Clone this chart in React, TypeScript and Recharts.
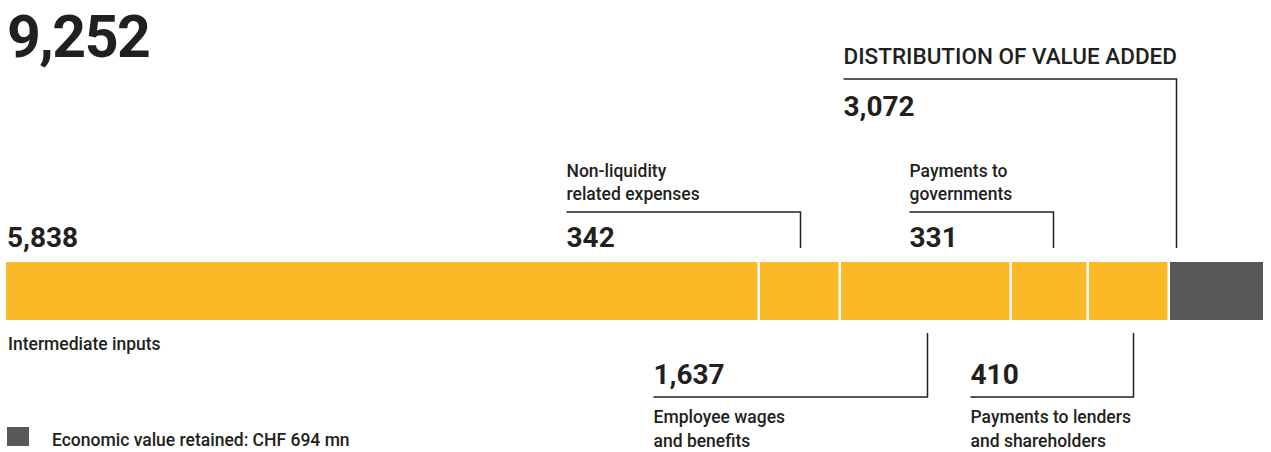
import React from 'react';
import { BarChart, Bar, XAxis, YAxis, LabelList } from 'recharts';

// ---- data ----
const segmentKeys = ['intermediate', 'nonLiquidity', 'employees', 'governments', 'lenders', 'retained'];
const segmentValues = [5838, 342, 1637, 331, 410, 694]; // CHF mn
// drawn lengths of the segments as read from the graphic (the source bar is not to scale)
const segmentLengths = [754, 81, 171, 77, 81, 93];
const segmentLabels: string[][] = [
  ['Intermediate inputs'],
  ['Non-liquidity', 'related expenses'],
  ['Employee wages', 'and benefits'],
  ['Payments to', 'governments'],
  ['Payments to lenders', 'and shareholders'],
  ['Economic value retained: CHF 694 mn'],
];
const totalValue = 9252;
const valueAddedTotal = 3072;
const valueAddedTitle = 'DISTRIBUTION OF VALUE ADDED';

// ---- styles / layout ----
const YELLOW = '#fbb827';
const GREY = '#58585a';
const INK = '#231f20';
const FONT = 'Roboto, "Open Sans", sans-serif';
const segmentColors = [YELLOW, YELLOW, YELLOW, YELLOW, YELLOW, GREY];
// callout placement: 'top' / 'bottom', x offset of the connector from bar centre, left reach of the callout
const calloutSide = ['none', 'top', 'bottom', 'top', 'bottom', 'none'];
const calloutDx = [0, 0, 1, 3, 4, 0];
const calloutReach = [0, 234, 274, 144, 163, 0];

const fmt = (v: number) => v.toLocaleString('en-US');

const row: Record<string, number | string> = { name: 'value' };
segmentKeys.forEach((k, i) => {
  row[k] = segmentLengths[i];
});
const data = [row];
const lengthSum = segmentLengths.reduce((a, b) => a + b, 0);

const GAP = 2.5;

const lineProps = { stroke: INK, strokeWidth: 1.5, fill: 'none' };
const numStyle = { fontFamily: FONT, fontWeight: 700, fontSize: 28, fill: INK };
const lblStyle = { fontFamily: FONT, fontWeight: 500, fontSize: 17.5, fill: INK };

function geom(p: any) {
  const vb = p && p.viewBox && p.viewBox.width !== undefined ? p.viewBox : p;
  return {
    x: Number(vb.x),
    y: Number(vb.y),
    w: Number(vb.width),
    h: Number(vb.height),
  };
}

function renderCallout(i: number, p: any) {
  const { x, y, w, h } = geom(p);
  const top = y;
  const bottom = y + h;
  const val = fmt(segmentValues[i]);
  const labels = segmentLabels[i];

  if (i === 0) {
    return (
      <g>
        <text x={x + 1} y={top - 205} style={{ ...numStyle, fontSize: 59, letterSpacing: -1.5 }}>
          {fmt(totalValue)}
        </text>
        <text x={x + 1} y={top - 15} style={numStyle}>
          {val}
        </text>
        <text x={x + 2} y={bottom + 30} style={lblStyle}>
          {labels[0]}
        </text>
      </g>
    );
  }

  if (i === 5) {
    const lx = x + 6.5;
    const left = lx - 333;
    return (
      <g>
        <path d={`M${left},${top - 183} H${lx} V${top - 14}`} {...lineProps} />
        <text x={left} y={top - 198} style={{ ...lblStyle, fontSize: 22.5 }}>
          {valueAddedTitle}
        </text>
        <text x={left} y={top - 146} style={numStyle}>
          {fmt(valueAddedTotal)}
        </text>
        {/* legend */}
        <rect x={7} y={bottom + 107} width={22} height={19} fill={GREY} />
        <text x={52} y={bottom + 126} style={lblStyle}>
          {labels[0]}
        </text>
      </g>
    );
  }

  const lx = x + w / 2 + calloutDx[i];
  const left = lx - calloutReach[i];
  if (calloutSide[i] === 'top') {
    return (
      <g>
        <path d={`M${left},${top - 50} H${lx} V${top - 14}`} {...lineProps} />
        <text x={left} y={top - 15} style={numStyle}>
          {val}
        </text>
        <text x={left} y={top - 85} style={lblStyle}>
          {labels[0]}
        </text>
        <text x={left} y={top - 62} style={lblStyle}>
          {labels[1]}
        </text>
      </g>
    );
  }
  return (
    <g>
      <path d={`M${lx},${bottom + 13} V${bottom + 77} H${left}`} {...lineProps} />
      <text x={left} y={bottom + 64} style={numStyle}>
        {val}
      </text>
      <text x={left} y={bottom + 103} style={lblStyle}>
        {labels[0]}
      </text>
      <text x={left} y={bottom + 126.5} style={lblStyle}>
        {labels[1]}
      </text>
    </g>
  );
}

const makeShape = (isLast: boolean) => (props: any) => {
  const { x, y, width, height, fill } = props;
  return (
    <rect
      x={x}
      y={y}
      width={Math.max(0, width - (isLast ? 0 : GAP))}
      height={height}
      fill={fill}
    />
  );
};

export default function App() {
  return (
    <div style={{ position: 'absolute', left: 0, top: 0, width: 1271, height: 452, background: '#fff' }}>
      <BarChart
        width={1271}
        height={452}
        layout="vertical"
        data={data}
        margin={{ top: 262, right: 8, bottom: 132, left: 6 }}
        barCategoryGap={0}
      >
        <XAxis type="number" hide domain={[0, lengthSum]} />
        <YAxis type="category" dataKey="name" hide />
        {segmentKeys.map((k, i) => (
          <Bar
            key={k}
            dataKey={k}
            stackId="a"
            fill={segmentColors[i]}
            isAnimationActive={false}
            shape={makeShape(i === segmentKeys.length - 1)}
          >
            <LabelList dataKey={k} content={(p: any) => renderCallout(i, p)} />
          </Bar>
        ))}
      </BarChart>
    </div>
  );
}
